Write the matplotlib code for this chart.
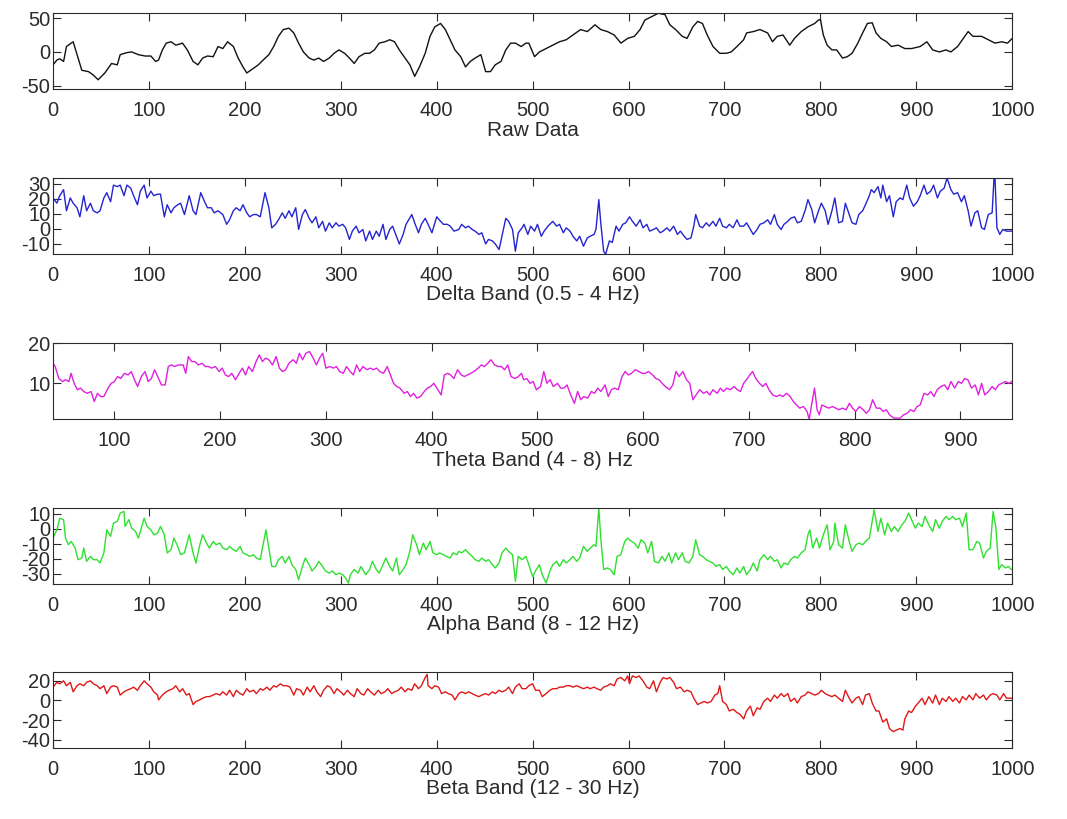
import matplotlib
matplotlib.use("Agg")
import matplotlib.pyplot as plt

plt.rcParams['font.family'] = ['Liberation Sans', 'DejaVu Sans']
plt.rcParams['axes.unicode_minus'] = False

# --- values (sample index, amplitude) ---
raw_x = [0, 4, 7, 11, 14, 21, 30, 37, 42, 47, 54, 61, 67, 70, 77, 82, 89, 96, 102, 107,
         110, 114, 118, 123, 128, 135, 140, 146, 151, 156, 161, 167, 172, 177, 182, 188, 193,
         198, 202, 209, 214, 219, 225, 230, 235, 240, 246, 251, 256, 261, 267, 272, 277, 282,
         288, 293, 298, 304, 309, 314, 319, 325, 330, 335, 340, 346, 351, 356, 361, 367, 372,
         377, 382, 388, 393, 398, 404, 409, 414, 419, 425, 430, 435, 440, 446, 451, 456, 461,
         467, 472, 477, 482, 488, 493, 496, 502, 507, 514, 521, 528, 535, 542, 550, 557, 565,
         571, 578, 585, 592, 599, 606, 612, 617, 624, 631, 638, 643, 649, 656, 661, 667, 672,
         677, 682, 688, 695, 702, 707, 713, 720, 723, 730, 737, 745, 750, 755, 761, 768, 773,
         780, 787, 794, 798, 800, 803, 807, 812, 817, 823, 828, 833, 839, 844, 849, 854, 858,
         863, 869, 874, 881, 888, 895, 904, 911, 917, 924, 931, 936, 943, 948, 954, 959, 968,
         975, 982, 989, 995, 1000]
raw_y = [-19, -12, -10, -14, 8, 15, -27, -29, -34, -41, -31, -17, -19, -4, -1, 0, -4, -6, -6, -14,
         -12, 3, 13, 15, 10, 13, 3, -14, -19, -9, -6, -7, 8, 5, 15, 8, -9,
         -22, -31, -24, -19, -12, -4, 8, 23, 33, 35, 28, 13, 0, -9, -12, -9, -14,
         -9, -2, 3, -2, -9, -17, -7, -2, -2, 3, 13, 15, 18, 15, 3, -9, -19,
         -36, -22, -2, 23, 37, 42, 33, 18, 3, -7, -22, -14, -9, -4, -29, -29, -19,
         -14, 3, 13, 13, 8, 13, 13, -7, 0, 5, 10, 15, 18, 25, 33, 30, 40,
         33, 30, 25, 13, 20, 23, 33, 47, 52, 57, 55, 40, 33, 23, 20, 37, 45,
         42, 25, 8, -2, -2, 0, 8, 18, 28, 30, 33, 28, 15, 23, 25, 10, 20,
         30, 37, 42, 47, 48, 25, 10, 3, 3, -9, -7, -2, 13, 28, 42, 43, 28,
         20, 15, 8, 10, 5, 5, 8, 15, 3, 0, 3, 0, 8, 18, 30, 23, 23,
         18, 13, 15, 13, 20]

delta_x = [0, 4, 7, 11, 14, 18, 21, 25, 28, 32, 35, 39, 42, 46, 49, 53, 56, 60, 63, 67, 70, 74,
           77, 81, 84, 88, 91, 95, 98, 102, 105, 109, 112, 116, 119, 123, 126, 130, 133, 137,
           142, 146, 149, 154, 158, 161, 165, 168, 172, 177, 181, 184, 188, 191, 195, 198, 202,
           205, 209, 212, 216, 221, 225, 228, 232, 235, 239, 242, 246, 249, 253, 256, 260, 263,
           267, 270, 274, 277, 281, 284, 288, 291, 295, 298, 302, 305, 309, 312, 316, 319, 323,
           326, 330, 333, 337, 340, 344, 347, 351, 354, 358, 361, 365, 368, 374, 377, 381, 384,
           388, 391, 395, 400, 404, 407, 411, 414, 418, 423, 426, 430, 433, 437, 440, 444, 447,
           451, 454, 458, 461, 465, 468, 472, 475, 479, 482, 485, 489, 491, 495, 498, 502, 505,
           509, 512, 516, 521, 525, 528, 532, 535, 539, 542, 546, 549, 553, 557, 560, 564, 566,
           569, 571, 574, 576, 580, 583, 587, 590, 594, 597, 601, 604, 608, 612, 615, 619, 622,
           626, 629, 633, 636, 640, 643, 647, 651, 654, 658, 661, 665, 668, 670, 674, 677, 681,
           684, 688, 691, 695, 698, 702, 705, 709, 713, 716, 720, 723, 727, 730, 734, 737, 741,
           745, 748, 752, 755, 759, 762, 766, 769, 773, 776, 780, 784, 787, 791, 794, 798, 801,
           805, 808, 812, 815, 819, 823, 826, 830, 833, 837, 840, 844, 847, 851, 853, 856, 860,
           863, 865, 869, 872, 876, 879, 883, 886, 890, 893, 897, 901, 904, 908, 911, 915, 918,
           922, 925, 929, 932, 936, 939, 943, 947, 950, 954, 957, 961, 964, 968, 971, 975, 979,
           981, 982, 984, 987, 990, 994, 999]
delta_y = [20.5, 17, 22, 26, 12, 20.5, 17, 14, 8, 22, 12, 17, 12, 10.6, 12, 20.5, 24, 18, 29, 28, 29, 22,
           29, 27, 22, 16, 25, 29, 20.5, 25, 22, 23, 23, 8, 16, 10.6, 14, 16, 17, 9.5,
           22, 12, 9.5, 24, 18, 14, 14, 10.6, 12, 9.5, 3, 6, 12, 14, 12, 16, 10.6,
           8, 9.5, 9.5, 8, 24, 14, 0.7, 3, 6, 10.6, 7, 12, 8, 14, -0.4, 9.5, 12.8,
           7, 4, 8, 0.7, 5, -1.5, 4, 0.7, 4, 1.8, 3, 0.7, -7, -1.5, 1.8, -2.6, -0.4,
           -8, -1.5, -7, -1.5, -4.9, 3, -7, -0.4, 1.8, -4.9, -10, -3.7, 3, 9.5, 4, -2.6, 3,
           7, 3, -2.6, 8, 5, 3, 3, 1.8, -1.5, -0.4, 3, 0.7, 1.8, -0.4, -1.5, -3.7, -2.6,
           -10, -7, -8, -10, -13.7, -4.9, 7, 5, -0.4, -14.8, -2.6, 0.7, 3, -3.7, 1.8, -1.5, 3,
           -4.9, -1.5, 1.8, 5, 1.8, 3, -2.6, 0.7, -1.5, -4.9, -8, -4.9, -11.5, -6, -4.9, -3.7, -0.4,
           19.4, 4, -14.8, -17, -8, -9, 1.8, -1.5, 3, 4, 8, 5, 1.8, 6, 0.7, 3, -1.5,
           -0.4, 0.7, -2.6, -1.5, 0.7, -1.5, 1.8, -3.7, -1.5, -4.9, -7, -6, 1.8, 9.5, 1.8, 0.7, 4,
           1.8, 5, 1.8, 7, 1.8, 0.7, 3, 0.7, 6, 1.8, 1.8, 4, -0.4, -3.7, -0.4, 3, 4,
           6, 3, 9.5, 3, -0.4, 3, 5, 7, 8, 4, 5, 12, 19.4, 12.8, 4, 12, 17,
           12, 3, 12, 20.5, 4, 5, 17, 9.5, 4, 3, 9.5, 12, 16, 22, 26, 24, 28,
           20.5, 29, 18, 22, 8, 18, 20.5, 19.4, 29, 20.5, 15, 18, 22, 29, 23, 25, 29,
           20.5, 25, 27, 33.8, 26, 23, 24, 18, 22, 12, 1.8, 10.6, 12, 0.7, -0.4, 9.5, 10.6,
           33.8, 33.8, 0.7, -3.7, -0.4, -1.5, -1.5]

theta_x = [41, 44, 47.5, 51, 54, 57, 59, 62, 65, 68, 71, 74.5, 78, 81, 84, 87, 90, 94, 97, 100,
           103, 106, 109.5, 113, 116, 119, 122, 125.5, 129, 132, 135, 138, 141, 144.5, 148, 151,
           154, 157, 160.5, 165, 167.5, 170, 173, 176, 179.5, 183, 186, 189, 192, 195.5, 199,
           202, 205, 208, 211, 214.5, 218, 221, 224, 227, 230.5, 234, 237, 240, 243, 246, 249.5,
           253, 256, 259, 262, 265, 269, 272, 275, 278, 281, 284.5, 288, 291, 294, 297, 300,
           304, 307, 310, 313, 316.5, 319.5, 323, 326, 329, 332, 335, 339, 342, 345, 348, 351,
           354.5, 358, 361, 364, 367, 370, 374, 377, 380, 383, 386, 389.5, 393, 396, 399, 402,
           405, 409, 412, 415, 418, 421, 424.5, 428, 431, 434, 437, 440, 444, 447, 450, 453,
           456, 459.5, 463, 466, 469, 472, 475, 479, 482, 485, 487, 490, 493, 496, 499, 503,
           506, 509, 512, 515, 519, 522, 525, 528, 531.5, 535, 538, 541, 544, 547.5, 551, 554,
           557, 560, 564, 567, 570, 573, 576.5, 580, 583, 586, 589, 592.5, 596, 599, 602, 605,
           609, 612, 615, 618, 621, 625, 628, 631, 634, 637.5, 641, 644, 647, 650, 653.5, 657,
           660, 663, 666, 670, 673, 676, 679, 682.5, 686, 689, 692, 695, 698.5, 702, 703.5,
           706.5, 710, 713, 716, 719, 722.5, 726, 729, 732, 735.5, 739, 742, 745, 748, 751.5,
           755, 757, 759.5, 762, 764.5, 766.5, 769, 772, 775.5, 779, 782, 785, 788.5, 792, 795,
           798, 801, 804.5, 808, 811, 814, 817, 820.5, 824, 827, 830, 833, 837, 840, 843, 846,
           849.5, 853, 856, 859, 862, 865.5, 869, 872, 875, 878, 881.5, 885, 888, 891, 894.5,
           898, 901, 904, 907, 910.5, 914, 917, 920, 923, 926.5, 930, 933, 936, 939, 942.5,
           946, 948.5]
theta_y = [15.45, 14.2, 11.2, 10.45, 10.9, 10.45, 12.5, 10.0, 8.4, 8.8, 7.95, 7.5, 7.95, 5.45, 7.5, 6.7, 6.7,
           8.8, 10.0, 10.45, 11.7, 11.2, 12.5, 12.1, 12.95, 10.9, 9.2, 11.7, 12.95, 10.45, 11.2, 13.4, 11.7,
           9.6, 9.6, 14.2, 14.6, 14.2, 14.6, 14.6, 12.5, 16.7, 15.45, 15.45, 14.6, 15.0, 14.2, 14.2, 13.8,
           14.2, 12.95, 13.8, 12.1, 11.7, 12.5, 10.9, 12.5, 13.8, 12.1, 14.2, 12.95, 15.45, 17.1, 15.45,
           16.3, 15.9, 14.6, 16.7, 13.8, 12.95, 13.4, 15.0, 15.9, 15.0, 17.5, 15.9, 17.5, 17.95, 16.3,
           14.6, 16.3, 17.5, 13.8, 14.2, 13.8, 14.2, 12.95, 12.5, 14.2, 12.95, 12.1, 14.6, 12.95, 14.2, 13.4,
           13.8, 13.4, 13.8, 12.95, 12.5, 14.2, 12.1, 10.0, 9.2, 8.8, 7.5, 7.95, 6.7, 7.5, 6.3, 6.7,
           7.95, 8.8, 9.2, 10.0, 8.8, 7.1, 12.1, 12.5, 12.1, 11.2, 13.4, 12.1, 11.7, 12.1, 12.5, 12.95,
           13.8, 14.6, 14.2, 15.0, 15.9, 14.6, 14.2, 14.2, 13.4, 14.6, 11.7, 11.2, 11.7, 12.5, 10.9, 11.2,
           10.0, 10.45, 8.4, 9.2, 12.95, 10.0, 10.9, 9.2, 10.0, 8.8, 8.8, 9.6, 7.1, 5.0, 7.95, 5.9,
           6.7, 6.3, 7.95, 7.5, 8.8, 7.95, 9.6, 6.7, 8.4, 8.8, 8.4, 11.7, 12.95, 12.1, 12.5, 13.4,
           12.95, 12.5, 12.5, 12.95, 12.1, 11.2, 10.9, 10.0, 9.2, 8.4, 9.6, 12.95, 11.7, 12.95, 10.9,
           10.0, 5.9, 7.1, 8.4, 7.5, 7.95, 7.1, 8.4, 7.5, 8.8, 7.95, 8.8, 8.4, 9.2, 8.4, 7.95, 10.0,
           11.2, 12.5, 12.95, 11.2, 10.0, 9.2, 10.0, 8.4, 7.1, 6.7, 7.1, 6.7, 7.5, 6.7, 5.45, 4.6, 3.8,
           4.2, 2.95, 1.0, 5.0, 8.8, 3.4, 2.1, 4.6, 4.2, 3.8, 4.2, 3.8, 3.4, 3.8, 3.4, 5.0, 3.8, 2.95, 4.2,
           3.4, 2.5, 3.4, 5.9, 3.8, 3.8, 2.95, 3.4, 2.1, 1.3, 1.3, 1.3, 2.1, 2.5, 3.4, 2.95, 4.2, 4.6,
           7.5, 7.1, 7.95, 6.7, 8.4, 9.2, 9.6, 8.4, 10.45, 8.8, 10.45, 10.0, 11.2, 10.9, 8.8, 9.6,
           7.1, 10.0, 7.1, 7.95, 9.2, 8.4, 9.6, 10.0, 10.45, 10.0, 10.45]

alpha_x = [0, 4, 7, 11, 13, 16, 19, 23, 26, 30, 32, 35, 39, 42, 46, 49, 53, 56, 60, 63, 67, 70,
           74, 75, 79, 82, 86, 89, 95, 98, 102, 105, 109, 112, 116, 119, 123, 126, 130, 133,
           137, 142, 146, 149, 153, 156, 160, 163, 167, 170, 174, 177, 181, 184, 188, 191, 195,
           198, 202, 205, 209, 212, 216, 219, 222, 225, 228, 232, 235, 239, 242, 246, 249, 253,
           256, 260, 263, 267, 270, 274, 277, 281, 284, 288, 291, 295, 298, 302, 305, 308, 310,
           314, 318, 321, 326, 330, 333, 337, 340, 344, 347, 351, 354, 358, 361, 365, 368, 372,
           375, 379, 382, 386, 389, 393, 396, 400, 403, 407, 410, 414, 417, 421, 423, 426, 430,
           433, 437, 440, 444, 447, 451, 454, 458, 461, 465, 468, 472, 475, 479, 482, 485, 489,
           493, 496, 500, 503, 507, 510, 514, 518, 521, 525, 528, 532, 535, 539, 542, 546, 549,
           553, 557, 560, 564, 566, 569, 571, 574, 578, 581, 585, 588, 592, 596, 599, 603, 606,
           610, 613, 617, 620, 624, 627, 631, 635, 638, 642, 645, 649, 652, 656, 659, 663, 667,
           670, 674, 677, 681, 684, 688, 691, 695, 698, 702, 705, 709, 713, 716, 720, 723, 727,
           730, 734, 737, 741, 745, 748, 752, 755, 759, 762, 766, 769, 773, 776, 780, 784, 787,
           789, 792, 796, 799, 803, 807, 810, 814, 815, 819, 823, 826, 830, 833, 837, 840, 844,
           847, 851, 854, 856, 860, 863, 867, 870, 874, 877, 881, 885, 888, 892, 895, 899, 902,
           906, 909, 913, 917, 920, 924, 927, 931, 934, 938, 941, 945, 948, 952, 955, 959, 963,
           966, 970, 973, 977, 980, 983, 986, 989, 993, 996, 999]
alpha_y = [-6.2, -0.7, 7, 6, -6.2, -10.6, -8.4, -12.8, -20.5, -19.4, -12.8, -21.6, -18.3, -20.5, -20.5,
           -22.7, -16, -0.7, -5, 3.75, 4.9, 10.4, 11.5, 1.5, 6, 0.4, -1.8, -6.2, 7, 1.5, -0.7, -4,
           -2.9, 1.5, -4, -16, -13.9, -6.2, -11.7, -17.2, -16, -4, -16, -22.7, -10.6, -4, -9.5,
           -12.8, -8.4, -10.6, -9.5, -12.8, -13.9, -11.7, -13.9, -15, -11.7, -16, -17.2, -18.3,
           -17.2, -19.4, -20.5, -10.6, -0.7, -12.8, -25, -25, -20.5, -18.3, -22.7, -18.3, -23.8,
           -27, -33.8, -25, -19.4, -23.8, -28, -25, -21.6, -25, -28, -29.4, -28, -30.5, -29.4,
           -30.5, -32.7, -36, -30.5, -27, -29.4, -25, -30.5, -27, -21.6, -27, -29.4, -23.8, -19.4,
           -25, -28, -19.4, -30.5, -27, -23.8, -15, -4, -10.6, -17.2, -9.5, -13.9, -8.4, -16,
           -17.2, -16, -17.2, -18.3, -19.4, -16, -17.2, -15, -16, -13.9, -16, -18.3, -20.5, -21.6,
           -19.4, -21.6, -20.5, -23.8, -26, -22.7, -16, -12.8, -15, -17.2, -34.9, -18.3, -20.5,
           -18.3, -23.8, -31.6, -28, -23.8, -30.5, -36, -28, -23.8, -21.6, -25, -20.5, -22.7,
           -20.5, -18.3, -21.6, -19.4, -11.7, -15, -12.8, -10.6, -11.7, 13.7, -6.2, -27, -26, -27,
           -30.5, -18.3, -17.2, -8.4, -6.2, -8.4, -9.5, -12.8, -7.3, -9.5, -16, -8.4, -21.6,
           -22.7, -18.3, -21.6, -16, -22.7, -16, -20.5, -16, -21.6, -22.7, -18.3, -7.3, -17.2,
           -18.3, -20.5, -21.6, -22.7, -25, -23.8, -27, -25, -28, -30.5, -26, -29.4, -25, -30.5,
           -27, -22.7, -28, -20.5, -17.2, -20.5, -18.3, -21.6, -20.5, -26, -22.7, -23.8, -20.5,
           -18.3, -19.4, -16, -13.9, -4, -0.7, -12.8, -6.2, -12.8, -4, 2.6, -13.9, -8.4, 3.75,
           -10.6, -12.8, 2.6, -8.4, -15, -10.6, -9.5, -10.6, -8.4, -6.2, 4.9, 12.6, -1.8, 7, -4,
           3.75, -1.8, 1.5, -1.8, 2.6, 4.9, 10.4, 6, 0.4, 3.75, 1.5, 8.2, 2.6, -1.8, 6, 0.4, 4.9,
           8.2, 6, 8.2, 6, 7, 1.5, 10.4, -13.9, -13.9, -8.4, -9.5, -19.4, -15, -12.8, 11.5, 0.4,
           -27, -23.8, -26, -25, -27]

beta_x = [0, 4, 7, 11, 14, 18, 21, 25, 28, 32, 35, 39, 42, 46, 49, 53, 56, 60, 63, 67, 70, 74, 77,
          81, 84, 88, 91, 95, 98, 102, 105, 109, 110, 114, 118, 121, 125, 128, 132, 135, 139, 142,
          146, 149, 153, 156, 160, 163, 167, 170, 174, 177, 181, 184, 188, 191, 195, 198, 202, 205,
          209, 212, 216, 219, 223, 226, 230, 233, 237, 240, 244, 247, 251, 254, 258, 261, 265, 268,
          272, 275, 279, 282, 286, 289, 293, 296, 300, 303, 307, 310, 314, 317, 321, 324, 328, 331,
          335, 339, 342, 346, 349, 353, 356, 360, 363, 367, 370, 374, 377, 381, 384, 388, 390, 391,
          395, 398, 402, 405, 409, 412, 416, 419, 423, 426, 430, 433, 437, 440, 444, 447, 451, 454,
          458, 461, 465, 468, 472, 475, 479, 482, 486, 489, 493, 496, 500, 503, 507, 510, 514, 518,
          521, 525, 528, 532, 535, 539, 542, 546, 549, 553, 557, 560, 564, 567, 571, 574, 578, 581,
          585, 588, 592, 596, 599, 601, 604, 608, 611, 615, 619, 622, 626, 629, 633, 636, 640, 643,
          647, 650, 654, 658, 661, 665, 668, 672, 675, 679, 682, 686, 690, 693, 695, 698, 702, 705,
          709, 713, 716, 720, 723, 727, 730, 734, 737, 741, 745, 748, 752, 755, 759, 762, 766, 769,
          773, 776, 780, 784, 787, 791, 794, 798, 801, 805, 808, 812, 815, 819, 823, 826, 830, 833,
          837, 840, 844, 847, 851, 854, 858, 861, 865, 869, 872, 876, 879, 883, 886, 888, 892, 895,
          899, 902, 906, 909, 913, 917, 920, 924, 927, 931, 934, 938, 941, 945, 948, 952, 955, 959,
          962, 966, 970, 973, 977, 980, 984, 987, 991, 994, 999]
beta_y = [13.6, 18.5, 17, 20, 15, 18.5, 8.8, 15, 17, 15, 18.5, 20, 17, 15, 12, 15, 7, 13.6, 15, 13.6,
          5.5, 8.8, 10.4, 12, 13.6, 10.4, 15, 20, 17, 13.6, 8.8, 5.5, 0.6, 5.5, 8.8, 10.4, 12, 15,
          8.8, 12, 5.5, 7, -4.2, -1, 0.6, 2.3, 3.9, 3.9, 5.5, 7, 5.5, 8.8, 5.5, 10.4, 3.9, 10.4, 7,
          5.5, 12, 8.8, 10.4, 7, 12, 10.4, 13.6, 10.4, 15, 13.6, 17, 15, 15, 13.6, 5.5, 12, 10.4,
          5.5, 13.6, 8.8, 15, 8.8, 3.9, 10.4, 15, 13.6, 7, 12, 8.8, 5.5, 10.4, 7, 3.9, 12, 7, 5.5,
          12, 8.8, 5.5, 10.4, 7, 8.8, 12, 7, 8.8, 10.4, 13.6, 8.8, 12, 10.4, 17, 12, 15, 23.4, 26.6,
          15, 12, 15, 13.6, 7, 8.8, 7, 5.5, 0.6, 7, 8.8, 7, 8.8, 7, 5.5, 3.9, 5.5, 7, 5.5, 8.8, 7,
          10.4, 8.8, 10.4, 13.6, 7, 13.6, 17, 12, 12, 15, 17, 10.4, 10.4, 3.9, 7, 10.4, 12, 12,
          13.6, 13.6, 15, 15, 13.6, 15, 13.6, 12, 13.6, 12, 13.6, 12, 10.4, 13.6, 15, 17, 15, 21.8,
          23.4, 20, 25, 17, 25, 23.4, 25, 20, 13.6, 12, 20, 8.8, 18.5, 23.4, 21.8, 23.4, 18.5, 12,
          13.6, 8.8, 10.4, 8.8, 2.3, -4.2, -2.6, -1, -2.6, -1, 5.5, 7, 15, -1, -4.2, -10.7, -9,
          -12.3, -14, -18.8, -10.7, -5.8, -15.6, -7.5, -9, -1, 2.3, -1, 5.5, 2.3, 7, 3.9, 7, -1,
          2.3, -2.6, 3.9, 5.5, 8.8, 7, 5.5, 7, 10.4, 7, 5.5, 3.9, 5.5, 2.3, -1, 10.4, 2.3, -2.6,
          2.3, 3.9, -4.2, 5.5, 7, -2.6, -10.7, -10.7, -22, -18.8, -28.6, -31.8, -30.2, -28.6,
          -30.2, -18.8, -10.7, -12.3, -5.8, -2.6, 2.3, -4.2, 3.9, -2.6, 5.5, -4.2, 2.3, -1, 3.9,
          -1, 2.3, -2.6, 3.9, 0.6, 5.5, 0.6, 7, 2.3, 5.5, 0.6, 5.5, 7, 5.5, 0.6, 7, 2.3, 2.3]

titles = ['Raw Data', 'Delta Band (0.5 - 4 Hz)', 'Theta Band (4 - 8) Hz',
          'Alpha Band (8 - 12 Hz)', 'Beta Band (12 - 30 Hz)']
colors = ['#111111', '#2424d0', '#e020e0', '#30e030', '#e01818']
series = [(raw_x, raw_y), (delta_x, delta_y), (theta_x, theta_y),
          (alpha_x, alpha_y), (beta_x, beta_y)]
ylims = [(-55, 57), (-16.6, 33.8), (1.0, 20.0), (-36.6, 13.8), (-48.4, 29)]
yticks = [[-50, 0, 50], [-10, 0, 10, 20, 30], [10, 20], [-30, -20, -10, 0, 10], [-40, -20, 0, 20]]
xlims = [(0, 1000), (0, 1000), (42, 949), (0, 1000), (0, 1000)]
xticks = [range(0, 1001, 100)] * 2 + [range(100, 901, 100)] + [range(0, 1001, 100)] * 2

# axes bottoms (figure fraction)
bottoms = [0.891, 0.690, 0.488, 0.287, 0.0867]

fig = plt.figure(figsize=(10.67, 8.19), dpi=100)
txt = '#2b2b2b'
for i in range(5):
    ax = fig.add_axes([0.0497, bottoms[i], 0.899, 0.0928])
    x, y = series[i]
    ax.plot(x, y, color=colors[i], lw=1.0)
    ax.set_xlim(*xlims[i])
    ax.set_ylim(*ylims[i])
    ax.set_xticks(list(xticks[i]))
    ax.set_yticks(yticks[i])
    ax.tick_params(direction='in', length=5.5, width=0.8, top=True, right=True,
                   labelsize=14.5, colors=txt)
    ax.tick_params(axis='x', pad=8.5)
    ax.tick_params(axis='y', pad=2)
    for s in ax.spines.values():
        s.set_color(txt)
        s.set_linewidth(0.8)
    ax.set_xlabel(titles[i], fontsize=15, color=txt, labelpad=0.5)

fig.savefig('out.png', dpi=100)
